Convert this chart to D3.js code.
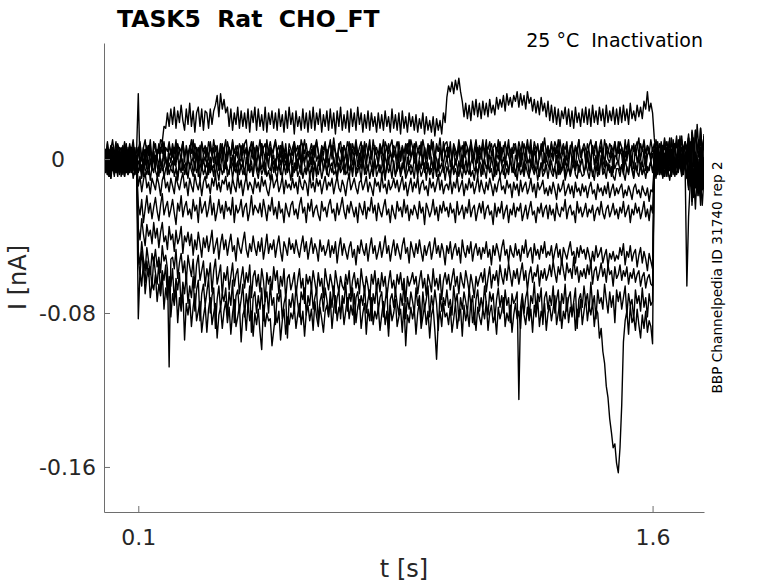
<!DOCTYPE html>
<html>
<head>
<meta charset="utf-8">
<script src="https://cdn.jsdelivr.net/npm/d3@7"></script>
<style>
  body { margin: 0; background: #fff; }
  text { font-family: "DejaVu Sans", sans-serif; }
</style>
</head>
<body>
<script>
// sample interval of the sweeps (s)
var sampleStep = 0.005;

// tick values
var xTicks = [0.1, 1.6];
var yTicks = [-0.16, -0.08, 0];

// current of each sweep in pA, one value per sample (t = 0 .. 1.75 s)
var sweepTop = [
  4,-6,5,-3,-8,6,2,-5,7,-2, 5,-7,3,8,-4,-6,5,-2,6,-5,
  6,-4,-7,3,5,-5,7,-1,-6,4, -3,5,3,10,9,17,16,24,17,26,
  18,27,16,25,19,28,20,15,26,18, 29,17,25,14,24,27,17,26,15,25,
  24,16,26,18,25,28,33,22,34,26, 31,24,27,17,26,15,24,18,27,16,
  25,17,24,16,26,14,25,19,27,15, 26,17,23,15,27,14,24,18,25,16,
  24,15,26,17,23,14,25,16,27,18, 24,13,25,17,22,15,26,16,24,14,
  25,16,27,15,24,18,26,14,23,17, 25,15,26,16,24,13,25,17,27,15,
  23,16,25,14,26,17,24,15,27,18, 24,14,23,16,25,15,24,17,22,14,
  24,16,23,15,25,17,22,14,26,16, 23,15,24,13,25,16,22,14,24,17,
  22,15,23,14,21,16,24,13,22,15, 20,14,22,12,21,15,20,13,24,19,
  32,38,35,40,34,41,36,42,35,30, 22,29,21,28,20,30,23,31,22,29,
  21,30,23,29,22,31,24,28,23,32, 26,31,27,33,25,34,28,32,27,33,
  30,35,27,34,28,33,26,35,29,32, 25,31,24,30,23,32,25,29,22,30,
  20,28,19,27,18,26,17,25,21,27, 18,26,17,25,16,27,19,24,17,26,
  19,27,18,26,17,28,19,25,18,27, 20,26,17,28,19,25,20,27,18,26,
  18,27,19,28,20,26,18,29,21,25, 20,28,22,27,21,30,26,35,25,29,
  24,11,3,9,0,8,-2,10,2,9, -1,11,1,8,-3,10,3,12,0,8,
  2,11,-1,14,-4,15,5,1,16,4,11
];
var sweepBase1 = [
  -3,5,-6,2,7,-1,-5,4,-2,6, -4,1,8,-3,0,-7,3,5,-2,4,
  34,-4,3,-6,5,1,-3,7,-2,4, -5,2,6,-1,-4,8,0,-6,3,-2,
  5,-3,7,1,-5,2,9,-1,-4,3, 6,-2,1,-6,4,-1,7,-3,2,5,
  -4,3,-7,1,6,-2,4,-5,2,8, -1,-5,3,6,-3,2,-6,4,1,-2,
  7,-4,2,5,-1,-6,3,0,6,-3, 4,-2,8,-5,1,3,-4,6,-1,2,
  -6,5,1,-3,7,-2,3,-5,4,1, -3,6,2,-5,4,-1,8,-2,3,-6,
  1,5,-3,7,-1,2,-4,6,0,-2, 5,-4,2,7,-1,-5,3,1,-3,6,
  -2,4,-6,2,8,-3,1,5,-4,3, -2,7,1,-4,5,-1,3,-6,4,2,
  -3,6,0,-5,3,7,-2,4,-1,5, 2,-6,4,-1,6,-4,1,8,-3,0,
  5,-2,3,-7,1,4,-3,6,-5,2, 7,-1,-4,3,0,-6,5,2,-3,4,
  -1,6,-4,2,5,-3,0,7,-2,-5, 3,1,-6,4,8,-2,2,-4,6,-1,
  4,-3,1,6,-5,2,-1,5,-6,3, 0,7,-3,1,-4,6,2,-2,5,-7,
  2,-1,6,-4,3,-6,5,0,-2,7, -3,4,1,-5,2,6,-4,3,-1,5,
  -5,3,0,6,-2,4,-7,1,5,-3, 2,-4,7,-1,3,-5,6,0,-3,4,
  6,-2,4,-5,1,7,-3,2,-6,3, 5,-1,-4,6,0,-2,4,-7,2,1,
  -3,5,2,-6,4,-1,6,-3,1,-5, 7,-2,3,0,-4,5,-6,2,4,-1,
  3,-4,6,1,-5,2,7,-2,-6,4, 0,5,-3,8,-1,-4,3,6,-5,1,
  -2,7,-8,12,3,-15,6,10,-20,4,-11
];
var sweepBase2 = [
  3,-7,0,-9,2,-4,-8,1,-5,-1, -6,2,-9,-3,0,-7,-2,3,-8,-4,
  -1,-6,-3,-9,1,-5,-8,0,-4,-7, 2,-3,-9,-1,-6,-4,1,-8,-2,-5,
  -7,0,-4,-9,-2,2,-6,-3,-8,1, -5,-1,-7,-4,3,-9,-2,-6,0,-5,
  -2,-8,1,-5,-3,-9,0,-6,-4,2, -7,-1,-5,-8,1,-3,-6,-2,-9,0,
  -5,-2,-8,1,-6,-4,-1,-9,2,-3, -7,0,-5,-2,-8,3,-4,-6,-1,-7,
  0,-6,-3,-8,2,-5,-1,-7,-4,1, -9,-2,-6,0,-4,-8,2,-3,-7,-1,
  -4,1,-7,-3,-9,-1,-5,2,-6,-2, -8,0,-4,-7,1,-5,-9,-2,-6,3,
  -8,-3,0,-6,-2,-9,1,-4,-7,-1, -5,2,-8,-3,-6,0,-4,-9,-1,-5,
  -2,-7,-4,1,-8,-5,-1,-6,2,-3, -9,-4,0,-7,-2,-5,-8,1,-6,-3,
  -6,0,-3,-9,-1,-5,2,-7,-4,-2, -8,1,-6,-3,-9,0,-5,-2,-7,-4,
  1,-5,-8,-2,-6,0,-4,-9,-3,2, -7,-1,-5,-8,-2,1,-6,-4,-9,-1,
  -3,-8,0,-5,-2,-7,1,-4,-9,-1, -6,2,-3,-8,-5,-1,-7,0,-4,-6,
  -9,-2,-6,1,-4,-7,-3,0,-8,-5, -1,-6,2,-4,-9,-2,-5,-7,1,-3,
  -5,-1,-7,-4,2,-8,-3,-6,0,-9, -2,-5,-8,1,-4,-6,-1,-7,-3,0,
  -7,-4,1,-6,-2,-9,-5,0,-3,-8, 2,-4,-7,-1,-6,-3,-9,0,-5,-2,
  -1,-6,-3,-8,0,-5,-7,2,-4,-9, -2,-6,1,-5,-8,-3,0,-7,-4,-1,
  -6,-2,-8,1,-4,-7,-3,0,-9,-5, -1,-4,2,-7,-3,-6,0,-8,-2,-5,
  -66,-30,-12,-4,-20,2,-16,-8,-24,-3,-14
];
var sweepBase3 = [
  7,1,9,-1,5,10,3,-2,8,4, 6,0,9,2,-3,7,4,10,1,6,
  3,8,-1,6,10,2,7,4,-2,9, 5,1,8,3,10,-1,6,4,9,2,
  8,3,10,0,6,4,9,-1,7,2, 5,10,1,8,3,6,-2,9,4,7,
  1,9,5,2,10,4,7,0,8,3, 6,-1,9,5,2,10,3,7,1,8,
  5,2,8,10,1,6,3,9,-2,7, 4,10,2,6,8,0,5,9,3,6,
  10,4,7,1,9,3,6,-1,8,5, 2,9,4,7,0,10,6,3,8,1,
  4,8,2,6,10,3,-1,7,5,9, 1,6,8,3,11,4,0,7,9,2,
  7,3,9,5,1,8,4,10,2,6, 9,0,5,8,3,7,1,10,4,6,
  2,8,5,0,9,6,3,7,10,1, 5,9,4,-1,7,3,8,6,2,10,
  6,1,9,4,7,2,10,5,0,8, 3,6,9,1,7,4,11,2,5,8,
  9,3,6,0,8,5,2,10,4,7, 1,9,6,3,8,-1,5,10,2,7,
  4,10,1,7,5,9,2,6,8,3, 10,0,6,4,9,2,7,5,1,8,
  7,2,9,5,0,8,4,10,3,6, 2,9,5,7,1,8,4,11,3,6,
  1,8,4,9,6,2,10,3,7,5, 9,0,6,8,2,7,4,10,1,5,
  8,5,1,7,10,3,6,9,2,4, 7,1,10,5,3,8,6,0,9,4,
  3,9,6,2,8,5,10,1,7,4, 6,9,2,8,4,10,3,7,5,1,
  6,2,10,4,8,1,7,5,9,3, 11,0,8,4,12,2,7,10,3,9,
  5,13,2,10,-2,15,6,1,16,4,12
];
var sweepBase4 = [
  -4,2,-8,-1,-10,-3,1,-7,-5,0, -9,-2,-6,3,-8,-4,-1,-10,-5,2,
  -7,-3,-10,0,-5,-8,-2,-11,-4,1, -6,-9,-3,-7,0,-10,-5,-2,-8,-4,
  -1,-9,-5,-11,-3,-7,0,-8,-4,-10, -2,-6,-9,-1,-7,-4,-11,-3,-8,-5,
  -10,-2,-7,-4,-9,1,-6,-11,-3,-8, -5,0,-9,-6,-2,-10,-4,-7,-1,-8,
  -3,-8,-5,-11,-1,-7,-4,-9,0,-6, -10,-3,-8,-5,-2,-9,-6,-11,-4,-1,
  -7,-10,-2,-6,-9,-3,-8,0,-5,-11, -4,-7,-1,-9,-6,-3,-10,-5,-8,-2,
  -9,-4,-11,-1,-6,-8,-3,-10,-5,0, -7,-9,-4,-2,-8,-6,-11,-3,-7,-5,
  -2,-8,-6,-10,-3,-7,1,-9,-5,-4, -11,-1,-6,-8,-3,-10,-5,-7,0,-9,
  -6,-3,-9,-5,-11,-2,-7,-4,-10,-1, -8,-6,-3,-9,-5,0,-10,-7,-4,-8,
  -5,-10,-1,-7,-4,-9,-6,-2,-11,-3, -8,-5,-10,-1,-7,-4,-9,-6,-3,-11,
  -4,-7,-11,-2,-8,-5,-9,-1,-6,-10, -3,-8,-5,0,-9,-6,-11,-4,-7,-2,
  -9,-3,-6,-10,-1,-7,-5,-11,-4,-8, -2,-9,-6,-3,-10,-5,-8,1,-7,-4,
  -6,-11,-2,-8,-5,-9,-3,-7,-10,0, -5,-8,-4,-11,-6,-2,-9,-7,-3,-10,
  -3,-7,-9,-4,-10,-1,-8,-6,-2,-11, -7,-4,-9,-5,-1,-8,-10,-3,-6,-9,
  -8,-2,-6,-10,-4,-7,-11,-3,-9,-5, 0,-8,-6,-10,-2,-7,-4,-9,-11,-5,
  -5,-9,-3,-7,-11,-4,-8,-1,-6,-10, -3,-7,-9,-2,-8,-5,-10,-4,-6,-1,
  -7,-4,-10,-2,-8,-5,1,-9,-3,-6, -11,-4,-7,0,-8,-5,-2,-9,-6,-3,
  -8,-15,-4,-22,-10,-26,-6,-18,-12,-24,-9
];
var sweepBase5 = [
  5,-2,8,1,-4,6,3,9,-1,4, 0,7,-3,5,2,8,-2,6,1,-4,
  4,9,0,6,-3,7,2,10,-1,5, 8,1,-4,6,3,9,0,-2,7,4,
  1,6,-3,8,4,-1,9,2,5,-2, 7,3,10,0,6,-4,5,8,2,-1,
  6,0,9,3,-2,7,4,-4,8,1, 5,10,-1,6,2,9,-3,4,7,0,
  -1,8,3,6,-4,5,9,1,-2,7, 3,-3,8,4,0,10,2,6,-1,5,
  9,2,-2,7,4,0,8,-3,5,1, 6,9,-1,3,7,-4,5,10,2,4,
  3,-3,7,1,9,4,-1,6,2,8, -2,5,10,0,7,3,-4,8,4,1,
  7,4,0,9,-2,5,1,8,3,-3, 6,2,9,-1,4,10,0,5,7,2,
  -2,6,3,10,1,-3,8,4,0,7, 5,-1,9,2,6,-4,7,3,10,1,
  4,8,-1,5,2,9,-3,6,1,7, 0,10,3,-2,8,4,6,-1,9,2,
  6,1,9,-2,7,3,0,8,5,-3, 9,2,6,-1,10,4,1,7,-2,5,
  0,7,4,10,-1,5,8,2,-3,6, 3,9,1,7,-2,4,10,0,6,3,
  8,-2,5,1,9,3,-1,7,4,10, -3,6,2,8,0,5,9,-2,4,7,
  2,9,-1,6,3,10,0,5,8,-3, 7,1,4,9,-2,6,3,10,1,5,
  5,0,8,4,-3,7,2,9,-1,6, 10,3,-2,8,5,1,7,4,9,0,
  9,3,6,-2,10,1,7,4,-1,8, 2,6,11,0,5,9,-3,7,3,10,
  4,8,1,6,-2,9,3,11,0,5, 7,-3,10,4,8,1,12,-1,6,9,
  2,11,-5,15,8,-2,18,5,10,-6,13
];
var sweepNeg1 = [
  -2,5,-8,1,-5,3,-9,-1,4,-6, 2,-4,6,-7,0,3,-5,7,-3,1,
  -14,-9,-17,-11,-7,-15,-12,-18,-10,-13, -16,-9,-13,-19,-11,-8,-15,-12,-17,-10,
  -14,-18,-9,-13,-16,-11,-7,-15,-12,-19, -10,-14,-17,-8,-13,-16,-11,-19,-12,-9,
  -15,-13,-18,-10,-14,-8,-16,-12,-17,-11, -13,-9,-16,-12,-18,-10,-14,-17,-8,-15,
  -11,-19,-13,-9,-16,-12,-14,-18,-10,-15, -12,-17,-9,-14,-11,-16,-19,-13,-8,-15,
  -12,-10,-17,-14,-9,-18,-11,-15,-13,-16, -10,-15,-12,-18,-9,-14,-16,-11,-13,-19,
  -8,-15,-12,-17,-10,-14,-11,-18,-13,-9, -16,-12,-14,-10,-18,-13,-9,-15,-17,-11,
  -14,-19,-12,-8,-16,-13,-10,-15,-18,-12, -11,-16,-13,-9,-17,-12,-15,-19,-10,-14,
  -12,-17,-8,-15,-13,-18,-11,-16,-14,-10, -15,-11,-17,-13,-9,-16,-12,-19,-14,-10,
  -17,-12,-15,-9,-18,-13,-11,-16,-14,-19, -10,-15,-12,-17,-13,-8,-16,-11,-18,-14,
  -13,-16,-10,-18,-12,-15,-9,-17,-14,-11, -19,-13,-16,-10,-15,-12,-18,-14,-9,-17,
  -11,-15,-18,-12,-16,-10,-14,-19,-13,-17, -12,-9,-16,-14,-18,-11,-15,-13,-20,-12,
  -16,-13,-19,-11,-17,-14,-12,-18,-15,-10, -17,-13,-20,-12,-16,-14,-11,-18,-15,-19,
  -14,-18,-12,-16,-21,-13,-17,-15,-11,-19, -16,-13,-18,-14,-20,-12,-17,-15,-19,-13,
  -17,-14,-20,-15,-12,-18,-16,-21,-13,-17, -15,-19,-14,-18,-12,-20,-16,-13,-19,-15,
  -18,-15,-13,-20,-16,-19,-14,-17,-21,-15, -13,-18,-16,-20,-14,-17,-19,-15,-22,-16,
  -17,-3,4,-6,1,-8,3,-2,-7,5, -1,-9,6,-4,2,-7,0,-5,4,-3,
  -10,6,-14,-2,-18,3,-8,-12,5,-16,-6
];
var sweepNeg2 = [
  3,-5,1,-9,-2,6,-4,0,-7,2, -3,5,-6,1,-8,4,-1,-5,3,-2,
  -24,-29,-21,-33,-26,-19,-28,-23,-31,-25, -20,-27,-32,-24,-18,-29,-25,-22,-30,-26,
  -21,-28,-34,-23,-27,-19,-30,-25,-22,-29, -26,-31,-21,-27,-24,-33,-20,-28,-25,-22,
  -30,-26,-19,-29,-23,-32,-27,-21,-28,-24, -31,-22,-27,-25,-29,-20,-33,-24,-28,-26,
  -21,-30,-25,-23,-32,-27,-19,-29,-24,-26, -28,-23,-30,-21,-26,-32,-24,-27,-20,-29,
  -25,-31,-22,-28,-26,-33,-23,-27,-30,-24, -22,-29,-26,-31,-24,-20,-28,-25,-33,-23,
  -27,-21,-30,-26,-24,-29,-32,-22,-27,-25, -30,-24,-21,-28,-26,-32,-23,-29,-25,-20,
  -27,-31,-24,-28,-22,-26,-30,-25,-33,-23, -26,-29,-22,-31,-25,-27,-20,-28,-24,-32,
  -23,-27,-30,-25,-21,-29,-26,-33,-24,-28, -31,-22,-27,-25,-30,-21,-28,-24,-32,-26,
  -29,-24,-27,-31,-22,-28,-25,-34,-23,-26, -30,-27,-21,-29,-25,-32,-24,-28,-22,-27,
  -25,-30,-23,-28,-26,-33,-22,-29,-27,-24, -31,-25,-28,-21,-30,-26,-24,-32,-27,-23,
  -28,-22,-31,-26,-24,-29,-27,-34,-23,-30, -25,-28,-22,-31,-27,-24,-33,-26,-29,-23,
  -30,-25,-27,-23,-32,-28,-24,-31,-26,-22, -29,-27,-33,-25,-28,-23,-30,-26,-24,-31,
  -24,-29,-26,-32,-23,-28,-30,-25,-27,-21, -31,-26,-24,-29,-27,-33,-22,-28,-25,-30,
  -27,-23,-30,-26,-28,-24,-32,-27,-25,-29, -22,-28,-31,-26,-24,-30,-27,-23,-29,-26,
  -31,-25,-28,-22,-30,-27,-24,-33,-26,-29, -23,-28,-25,-31,-27,-22,-30,-26,-32,-24,
  -28,-1,5,-4,2,-7,0,-5,6,-3, -6,3,-8,1,-4,5,-2,-7,2,-5,
  4,-9,1,-13,7,-6,-19,0,-11,3,-8
];
var sweepNeg3 = [
  -4,2,-8,5,-1,-6,3,-3,-9,1, -5,4,-2,-7,2,-4,6,-1,-8,0,
  -36,-42,-31,-39,-45,-34,-40,-37,-44,-33, -41,-36,-46,-38,-33,-43,-40,-47,-35,-42,
  -39,-48,-37,-44,-41,-35,-49,-40,-43,-38, -45,-39,-50,-42,-47,-38,-44,-51,-41,-46,
  -40,-48,-43,-37,-49,-45,-41,-52,-44,-39, -47,-42,-50,-44,-39,-48,-45,-53,-41,-46,
  -49,-43,-38,-47,-51,-44,-48,-40,-46,-50, -43,-48,-41,-52,-46,-39,-49,-44,-47,-42,
  -51,-45,-40,-48,-53,-43,-46,-50,-41,-47, -44,-49,-42,-47,-51,-45,-40,-48,-43,-52,
  -46,-41,-49,-44,-47,-53,-42,-48,-45,-50, -47,-42,-51,-45,-49,-43,-54,-46,-41,-50,
  -44,-48,-52,-46,-43,-51,-47,-55,-45,-49, -42,-47,-50,-44,-53,-46,-41,-49,-45,-52,
  -48,-43,-51,-46,-40,-49,-45,-53,-47,-42, -50,-44,-48,-52,-45,-41,-49,-46,-54,-43,
  -47,-51,-44,-49,-42,-48,-53,-45,-50,-46, -43,-52,-47,-41,-49,-45,-51,-44,-48,-55,
  -45,-49,-43,-52,-47,-44,-50,-46,-54,-42, -48,-51,-45,-49,-43,-53,-47,-44,-50,-46,
  -52,-46,-49,-43,-51,-47,-55,-45,-50,-44, -48,-53,-46,-42,-50,-47,-54,-45,-49,-51,
  -44,-50,-47,-53,-45,-49,-42,-51,-48,-46, -54,-44,-50,-47,-52,-45,-49,-43,-51,-48,
  -50,-45,-53,-48,-44,-51,-47,-55,-46,-49, -52,-47,-43,-50,-48,-54,-46,-51,-45,-49,
  -47,-52,-46,-50,-55,-48,-53,-45,-51,-49, -46,-54,-50,-47,-56,-49,-52,-48,-53,-50,
  -52,-46,-50,-44,-55,-48,-51,-45,-53,-49, -47,-56,-50,-46,-54,-48,-52,-58,-49,-53,
  -57,4,-3,7,-5,1,-9,3,-2,-6, 5,-4,0,-8,2,-5,6,-1,-7,3,
  5,-11,2,-16,8,-10,-3,-14,6,-7,1
];
var sweepNeg4 = [
  1,-7,4,-3,-10,2,-5,6,-2,-8, 3,-4,-9,0,5,-6,-1,4,-7,2,
  -48,-55,-43,-52,-58,-46,-53,-60,-49,-54, -47,-56,-51,-59,-45,-53,-50,-57,-108,-52,
  -51,-57,-47,-62,-54,-49,-59,-53,-64,-50, -56,-61,-52,-67,-55,-50,-63,-58,-53,-66,
  -57,-62,-54,-69,-58,-52,-65,-60,-55,-71, -59,-63,-56,-68,-61,-54,-66,-60,-57,-70,
  -62,-56,-67,-59,-64,-55,-72,-61,-58,-66, -60,-69,-57,-63,-74,-59,-65,-61,-68,-56,
  -63,-58,-70,-61,-66,-57,-73,-62,-60,-68, -64,-59,-71,-63,-57,-67,-62,-75,-60,-65,
  -61,-67,-58,-64,-70,-59,-66,-62,-72,-57, -63,-68,-60,-65,-71,-58,-64,-69,-61,-66,
  -68,-60,-65,-58,-71,-63,-59,-67,-62,-70, -57,-64,-69,-61,-66,-73,-60,-65,-58,-68,
  -62,-69,-59,-66,-61,-72,-64,-58,-67,-63, -70,-60,-65,-59,-68,-62,-74,-61,-66,-63,
  -59,-65,-61,-70,-63,-58,-67,-62,-71,-60, -64,-69,-57,-66,-62,-68,-60,-73,-63,-59,
  -65,-60,-68,-62,-57,-66,-61,-70,-59,-64, -67,-58,-63,-69,-60,-65,-72,-61,-66,-62,
  -59,-64,-57,-69,-62,-56,-67,-60,-63,-58, -66,-55,-61,-65,-57,-63,-54,-60,-66,-58,
  -62,-57,-65,-59,-54,-63,-58,-68,-60,-56, -64,-59,-61,-55,-66,-58,-62,-57,-63,-60,
  -55,-61,-53,-59,-64,-56,-60,-52,-58,-63, -54,-59,-57,-62,-51,-60,-56,-64,-58,-61,
  -57,-62,-55,-60,-53,-65,-58,-56,-63,-59, -54,-61,-57,-64,-55,-60,-58,-66,-56,-62,
  -60,-55,-63,-58,-61,-56,-65,-59,-62,-57, -64,-60,-58,-66,-61,-59,-67,-62,-60,-65,
  -66,-2,5,-8,3,-4,-10,1,-6,4, -3,-7,2,-9,0,5,-5,-1,-8,3,
  -3,-14,9,-7,-18,3,-11,-2,-15,6,-9
];
var sweepNeg5 = [
  -6,3,-2,-9,5,-4,1,-7,2,-3, 4,-8,0,-5,6,-2,-7,3,-4,1,
  -52,-60,-48,-57,-64,-53,-61,-56,-67,-51, -59,-65,-54,-70,-58,-63,-55,-72,-61,-66,
  -57,-74,-62,-68,-59,-77,-64,-70,-60,-75, -66,-72,-61,-79,-68,-63,-84,-70,-65,-76,
  -69,-62,-80,-71,-67,-88,-73,-66,-78,-70, -74,-67,-81,-69,-76,-63,-85,-71,-68,-79,
  -73,-65,-82,-70,-77,-66,-90,-72,-69,-80, -71,-78,-67,-84,-73,-69,-80,-65,-76,-72,
  -86,-70,-74,-68,-83,-75,-71,-93,-73,-77, -70,-79,-66,-75,-82,-69,-73,-67,-81,-71,
  -76,-65,-78,-72,-68,-84,-74,-70,-79,-67, -73,-81,-69,-77,-66,-80,-72,-68,-83,-71,
  -75,-64,-79,-70,-74,-67,-86,-72,-69,-78, -71,-76,-66,-80,-73,-68,-84,-70,-75,-65,
  -79,-72,-69,-82,-74,-67,-88,-73,-70,-77, -68,-75,-81,-70,-76,-64,-83,-72,-78,-69,
  -74,-80,-67,-76,-71,-85,-69,-78,-73,-66, -82,-71,-77,-68,-75,-89,-70,-79,-72,-76,
  -68,-77,-73,-81,-66,-75,-70,-84,-72,-78, -69,-74,-80,-67,-76,-71,-86,-73,-68,-79,
  -72,-78,-66,-75,-81,-69,-74,-70,-83,-73, -67,-77,-71,-80,-68,-76,-72,-85,-70,-75,
  -73,-69,-125,-77,-70,-80,-72,-68,-83,-71, -75,-64,-79,-70,-74,-67,-86,-72,-69,-78,
  -71,-76,-66,-80,-73,-68,-84,-70,-75,-65, -79,-72,-69,-82,-74,-67,-88,-73,-70,-77,
  -66,-74,-70,-79,-64,-76,-71,-83,-68,-75, -72,-78,-65,-73,-80,-69,-77,-71,-85,-68,
  -74,-69,-78,-72,-66,-81,-70,-76,-73,-84, -68,-75,-71,-79,-67,-77,-72,-82,-70,-76,
  -74,5,-3,2,-8,6,-1,-5,3,-9, 1,-4,7,-6,0,-2,4,-7,2,-3,
  1,-12,6,-20,11,-8,-3,-15,4,-10,-1
];
var sweepNeg6 = [
  2,-5,6,-1,-8,3,-3,5,-6,0, -2,4,-7,1,-4,6,-1,-6,3,-3,
  -83,-58,-66,-53,-70,-61,-57,-72,-64,-68, -60,-74,-65,-71,-59,-78,-67,-73,-63,-82,
  -70,-76,-66,-85,-72,-79,-68,-94,-75,-81, -73,-87,-77,-70,-84,-79,-74,-90,-82,-76,
  -90,-78,-72,-86,-80,-75,-93,-81,-77,-88, -79,-74,-85,-77,-91,-80,-73,-87,-82,-76,
  -95,-81,-78,-89,-75,-84,-79,-92,-80,-86, -78,-90,-99,-76,-87,-80,-84,-83,-97,-89,
  -81,-85,-79,-94,-84,-78,-91,-82,-86,-80, -83,-77,-88,-81,-75,-86,-79,-92,-80,-76,
  -84,-78,-89,-74,-82,-87,-77,-83,-90,-79, -76,-82,-73,-88,-78,-71,-84,-77,-80,-74,
  -86,-79,-72,-83,-76,-81,-70,-85,-77,-73, -88,-80,-75,-91,-78,-84,-72,-86,-79,-83,
  -77,-89,-81,-74,-86,-79,-92,-76,-84,-80, -73,-87,-82,-78,-90,-75,-97,-81,-85,-77,
  -83,-78,-91,-80,-74,-88,-82,-76,-86,-79, -93,-81,-77,-89,-104,-84,-79,-87,-75,-82,
  -80,-86,-77,-90,-83,-75,-88,-81,-78,-92, -76,-84,-79,-87,-73,-85,-80,-89,-77,-82,
  -86,-78,-83,-74,-89,-80,-76,-85,-81,-91, -77,-83,-79,-72,-87,-80,-84,-76,-90,-81,
  -75,-83,-79,-88,-72,-81,-86,-77,-84,-78, -90,-76,-82,-73,-87,-79,-83,-75,-89,-80,
  -76,-84,-78,-71,-86,-80,-74,-88,-79,-83, -72,-85,-77,-81,-75,-89,-78,-82,-73,-86,
  -79,-72,-84,-76,-81,-74,-87,-78,-80,-93, -88,-100,-106,-118,-124,-135,-142,-150,-148,-158,
  -163,-150,-128,-95,-84,-79,-91,-76,-85,-82, -89,-78,-86,-93,-81,-88,-79,-90,-84,-87,
  -96,3,-6,1,-4,7,-9,2,-3,-7, 4,-2,6,-8,0,-5,3,-1,-6,2,
  4,-16,8,-24,-5,-12,2,-19,6,-9,-14
];

var sweeps = [sweepBase1, sweepBase2, sweepBase3, sweepBase4, sweepBase5,
              sweepNeg1, sweepNeg2, sweepNeg3, sweepNeg4, sweepNeg5, sweepNeg6,
              sweepTop];

function init() {
    var w = 778;
    var h = 583;

    // plot box
    var left = 104, right = 704, top = 43, bottom = 512;

    var x = d3.scaleLinear()
        .domain([0, 1.75])
        .range([left, right]);

    var y = d3.scaleLinear()
        .domain([-0.1834, 0.0603])
        .range([bottom, top]);

    var svg = d3.select("body")
        .append("svg")
        .attr("width", w)
        .attr("height", h);

    svg.append("clipPath")
        .attr("id", "plotclip")
        .append("rect")
        .attr("x", left)
        .attr("y", top)
        .attr("width", right - left)
        .attr("height", bottom - top);

    // line generator, pA -> nA
    var line = d3.line()
        .x(function(d, i) { return x(i * sampleStep); })
        .y(function(d) { return y(d / 1000); });

    svg.append("g")
        .attr("clip-path", "url(#plotclip)")
        .selectAll("path")
        .data(sweeps)
        .enter()
        .append("path")
        .attr("d", line)
        .attr("fill", "none")
        .attr("stroke", "#000")
        .attr("stroke-width", 1.4)
        .attr("stroke-linejoin", "round");

    // x axis
    var xAxis = d3.axisBottom(x)
        .tickValues(xTicks)
        .tickSize(-6)
        .tickSizeOuter(0)
        .tickFormat(d3.format(".1f"));

    var gx = svg.append("g")
        .attr("transform", "translate(0," + bottom + ")")
        .call(xAxis);
    gx.selectAll("text")
        .attr("y", 33)
        .attr("dy", null);

    // y axis
    var yAxis = d3.axisLeft(y)
        .tickValues(yTicks)
        .tickSize(-6)
        .tickSizeOuter(0)
        .tickPadding(8)
        .tickFormat(function(d) { return d === 0 ? "0" : d.toFixed(2); });

    var gy = svg.append("g")
        .attr("transform", "translate(" + left + ",0)")
        .call(yAxis);
    gy.selectAll("text")
        .filter(function(d) { return d === 0; })
        .attr("x", -39);

    [gx, gy].forEach(function(g) {
        g.attr("font-family", "DejaVu Sans").attr("font-size", 22);
        g.select(".domain").attr("stroke", "#6e6e6e");
        g.selectAll(".tick line").attr("stroke", "#6e6e6e");
        g.selectAll(".tick text").attr("fill", "#262626");
    });

    // axis labels
    svg.append("text")
        .attr("x", (left + right) / 2)
        .attr("y", 577)
        .attr("text-anchor", "middle")
        .attr("font-size", 24)
        .attr("fill", "#262626")
        .text("t [s]");

    svg.append("text")
        .attr("transform", "translate(26," + (top + bottom) / 2 + ") rotate(-90)")
        .attr("text-anchor", "middle")
        .attr("font-size", 24)
        .attr("fill", "#262626")
        .text("I [nA]");

    // title and notes
    svg.append("text")
        .attr("x", 117)
        .attr("y", 27)
        .attr("font-size", 23.5)
        .attr("font-weight", "bold")
        .style("white-space", "pre")
        .text("TASK5  Rat  CHO_FT");

    svg.append("text")
        .attr("x", 703)
        .attr("y", 47)
        .attr("text-anchor", "end")
        .attr("font-size", 19)
        .style("white-space", "pre")
        .text("25 \u00B0C  Inactivation");

    svg.append("text")
        .attr("transform", "translate(722," + (top + bottom) / 2 + ") rotate(-90)")
        .attr("text-anchor", "middle")
        .attr("font-size", 13.7)
        .text("BBP Channelpedia ID 31740 rep 2");
}

window.onload = init;
</script>
</body>
</html>
